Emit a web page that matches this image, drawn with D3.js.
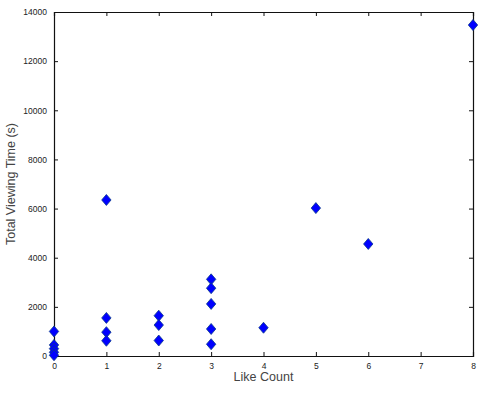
<!DOCTYPE html>
<html>
<head>
<meta charset="utf-8">
<script src="https://cdn.jsdelivr.net/npm/d3@7"></script>
<style>
  body { margin: 0; background: #fff; }
  svg text { font-family: "Liberation Sans", Arial, sans-serif; fill: #222; }
</style>
</head>
<body>
<div id="chart"></div>
<script>
// like count per video
const likeCount = [0, 0, 0, 0, 0, 1, 1, 1, 1, 2, 2, 2, 3, 3, 3, 3, 3, 4, 5, 6, 8];
// total viewing time (s)
const viewTime = [1000, 450, 300, 150, 30, 6350, 1550, 970, 620, 1640, 1260, 630, 3120, 2760, 2120, 1100, 480, 1150, 6020, 4560, 13470];
const xTicks = [0, 1, 2, 3, 4, 5, 6, 7, 8];
const yTicks = [0, 2000, 4000, 6000, 8000, 10000, 12000, 14000];

const width = 480, height = 393;
const margin = {top: 12, right: 7, bottom: 37, left: 54};

const svg = d3.select('#chart').append('svg')
  .attr('width', width)
  .attr('height', height);

const x = d3.scaleLinear().domain([0, 8]).range([margin.left, width - margin.right]);
const y = d3.scaleLinear().domain([0, 14000]).range([height - margin.bottom, margin.top]);

const g = svg.append('g');

// bottom and left axes with inward ticks
g.append('g')
  .attr('transform', `translate(0,${y(0)})`)
  .call(d3.axisBottom(x).tickValues(xTicks).tickSize(-4).tickPadding(7).tickFormat(d3.format('d')))
  .call(a => a.selectAll('text').attr('font-size', 8.5));

g.append('g')
  .attr('transform', `translate(${x(0)},0)`)
  .call(d3.axisLeft(y).tickValues(yTicks).tickSize(-4).tickPadding(7).tickFormat(d3.format('d')))
  .call(a => a.selectAll('text').attr('font-size', 8.5));

// top and right mirrored ticks
g.append('g')
  .attr('transform', `translate(0,${y(14000)})`)
  .call(d3.axisTop(x).tickValues(xTicks).tickSize(-4).tickFormat(''));
g.append('g')
  .attr('transform', `translate(${x(8)},0)`)
  .call(d3.axisRight(y).tickValues(yTicks).tickSize(-4).tickFormat(''));

g.selectAll('.domain').attr('stroke', '#111').attr('stroke-width', 1.2);
g.selectAll('.tick line').attr('stroke', '#111');

// diamond markers
const diamond = 'M0,-5.5L4.7,0L0,5.5L-4.7,0Z';
svg.append('g')
  .selectAll('path')
  .data(likeCount.map((d, i) => [d, viewTime[i]]))
  .join('path')
  .attr('d', diamond)
  .attr('transform', d => `translate(${x(d[0])},${y(d[1])})`)
  .attr('fill', '#0000ff')
  .attr('stroke', '#0a3a8a')
  .attr('stroke-width', 0.8);

// axis titles
svg.append('text')
  .attr('x', (x(0) + x(8)) / 2)
  .attr('y', 381)
  .attr('text-anchor', 'middle')
  .attr('font-size', 12.5)
  .style('fill', '#444')
  .text('Like Count');

svg.append('text')
  .attr('transform', `translate(15,${(y(0) + y(14000)) / 2}) rotate(-90)`)
  .attr('text-anchor', 'middle')
  .attr('font-size', 12.5)
  .style('fill', '#444')
  .text('Total Viewing Time (s)');
</script>
</body>
</html>
